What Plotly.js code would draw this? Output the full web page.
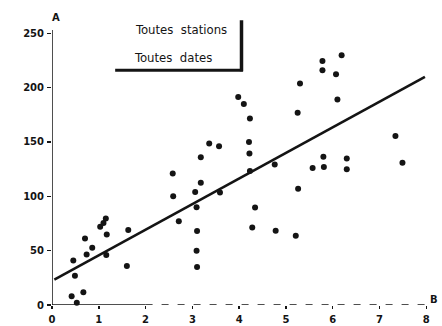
<!DOCTYPE html>
<html>
<head>
<meta charset="utf-8">
<script src="https://cdn.plot.ly/plotly-3.0.1.min.js"></script>
<style>
  html, body { margin: 0; padding: 0; background: #fff; }
  #chart { width: 442px; height: 326px; }
</style>
</head>
<body>
<div id="chart"></div>
<script>
// Observations: B on the horizontal axis, A on the vertical axis
const obsB = [0.42, 0.53, 0.67, 0.49, 0.455, 0.705, 0.74, 0.86, 1.03, 1.10, 1.15, 1.17, 1.16, 1.60, 1.63,
              2.58, 2.59, 2.71, 3.06, 3.18, 3.18, 3.36, 3.57, 3.09, 3.10, 3.09, 3.10, 3.59,
              3.98, 4.10, 4.23, 4.21, 4.22, 4.23, 4.76, 4.34, 4.28, 4.78, 5.21, 5.26, 5.57, 5.25, 5.30,
              6.19, 5.78, 5.78, 6.07, 6.10, 7.34, 5.80, 6.30, 5.81, 6.30, 7.49];
const obsA = [8, 2, 11.7, 27, 41, 61.3, 46.4, 52.7, 72, 75.4, 79.5, 64.8, 46, 35.8, 69,
              121, 100, 77, 104, 112.4, 136, 148.6, 146, 90, 68, 50, 35, 103.6,
              191.5, 185, 171.6, 150, 139.4, 123.4, 129.3, 89.8, 71.4, 68.3, 63.7, 107, 126, 177, 203.8,
              229.8, 224.5, 216, 212.3, 189, 155.6, 136.3, 134.8, 127, 125, 130.8];

// Fitted regression line: A = intercept + slope * B
const fitIntercept = 22.1;
const fitSlope = 23.57;
const fitRangeB = [0.05, 7.97];

const xTicks = [0, 1, 2, 3, 4, 5, 6, 7, 8];
const yTicks = [0, 50, 100, 150, 200, 250];
const yTickText = ['0', '50', '100', '150', '200', '250'];

const legendLines = ['Toutes\u00a0\u00a0stations', 'Toutes\u00a0\u00a0dates'];

const ink = '#141414';
const labelFont = { family: 'DejaVu Sans, Arial, sans-serif', size: 10, color: ink, weight: 'bold' };
const boxFont = { family: 'DejaVu Sans Condensed, DejaVu Sans, sans-serif', size: 13, color: ink };

const traces = [
  {
    type: 'scatter', mode: 'lines',
    x: fitRangeB,
    y: fitRangeB.map(b => fitIntercept + fitSlope * b),
    line: { color: ink, width: 2.6 },
    hoverinfo: 'skip'
  },
  {
    type: 'scatter', mode: 'markers',
    x: obsB, y: obsA,
    marker: { color: ink, size: 6 },
    cliponaxis: false
  }
];

const layout = {
  width: 442, height: 326,
  margin: { l: 52, r: 11, t: 17, b: 21 },
  paper_bgcolor: '#fff', plot_bgcolor: '#fff',
  showlegend: false,
  xaxis: {
    range: [0, 8.1], showgrid: false, zeroline: false, showline: false,
    tickvals: xTicks, ticktext: xTicks.map(String),
    ticks: 'outside', ticklen: 3, tickwidth: 1.5, tickcolor: ink,
    ticklabelstandoff: 2,
    tickfont: labelFont
  },
  yaxis: {
    range: [0, 265], showgrid: false, zeroline: false, showline: false,
    tickvals: yTicks, ticktext: yTickText,
    ticks: 'outside', ticklen: 4, tickwidth: 1.5, tickcolor: ink,
    ticklabelstandoff: 1,
    tickfont: labelFont
  },
  shapes: [
    // vertical axis
    { type: 'line', xref: 'x', yref: 'y', x0: 0, x1: 0, y0: 0, y1: 253, line: { color: ink, width: 1.5 } },
    // horizontal axis: solid start, broken remainder
    { type: 'line', xref: 'x', yref: 'y', x0: 0, x1: 2, y0: 0, y1: 0, line: { color: ink, width: 1.5 } },
    { type: 'line', xref: 'x', yref: 'y', x0: 2, x1: 8.15, y0: 0, y1: 0, line: { color: ink, width: 1.5, dash: '7px,9px' } },
    // frame of the caption box
    { type: 'line', xref: 'x', yref: 'y', x0: 4.05, x1: 4.05, y0: 215, y1: 262, line: { color: ink, width: 3.5 } },
    { type: 'line', xref: 'x', yref: 'y', x0: 1.35, x1: 4.08, y0: 216, y1: 216, line: { color: ink, width: 3 } }
  ],
  annotations: [
    { xref: 'x', yref: 'y', x: 1.73, y: 253.5, xanchor: 'left', yanchor: 'middle',
      text: legendLines[0], showarrow: false, font: boxFont },
    { xref: 'x', yref: 'y', x: 1.71, y: 228, xanchor: 'left', yanchor: 'middle',
      text: legendLines[1], showarrow: false, font: boxFont },
    { xref: 'paper', yref: 'paper', x: 0.01, y: 1.0, xanchor: 'center', yanchor: 'middle',
      text: 'A', showarrow: false, font: labelFont },
    { xref: 'paper', yref: 'paper', x: 1.024, y: 0.02, xanchor: 'right', yanchor: 'middle',
      text: 'B', showarrow: false, font: labelFont }
  ]
};

Plotly.newPlot('chart', traces, layout, { staticPlot: true, displayModeBar: false });
</script>
</body>
</html>
